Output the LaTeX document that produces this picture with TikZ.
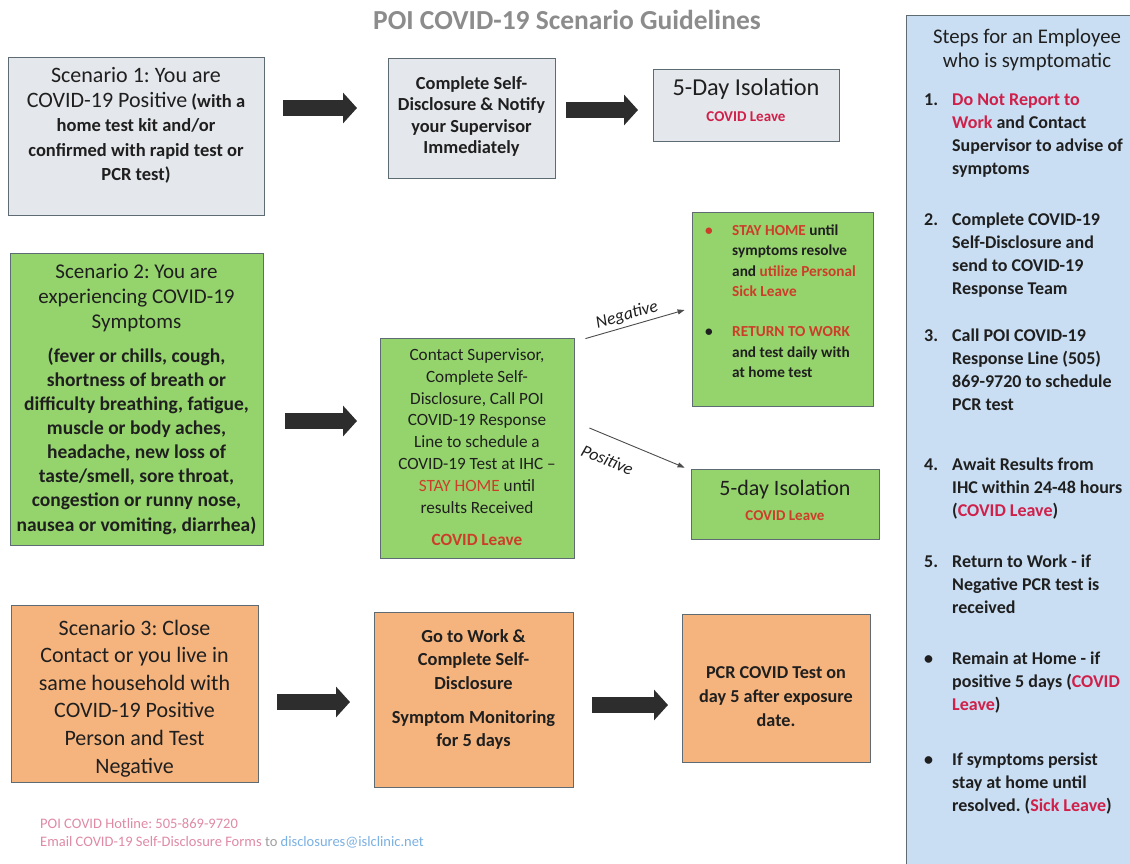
\documentclass[tikz,border=0pt]{standalone}
\usepackage{fontspec}
\setmainfont{Carlito}
\usetikzlibrary{arrows.meta}
\frenchspacing
\definecolor{txt}{HTML}{1F1F1F}
\definecolor{redp}{HTML}{D0204A}
\definecolor{redg}{HTML}{CC3E2A}
\definecolor{grayfill}{HTML}{E4E7EB}
\definecolor{greenfill}{HTML}{95D46C}
\definecolor{orangefill}{HTML}{F5B47E}
\definecolor{bluefill}{HTML}{C9DEF3}
\definecolor{bordc}{HTML}{5F6B73}
\definecolor{arrc}{HTML}{2D2D2D}
\definecolor{titlec}{HTML}{8C8C8C}
\definecolor{footpink}{HTML}{E08AA5}
\definecolor{footgray}{HTML}{A0A0A0}
\definecolor{footblue}{HTML}{7AB0E2}
\newcommand\FtTitle{\fontsize{22}{24.5}\selectfont\mdseries}
\tikzset{
  box/.style={draw=bordc, line width=0.8pt, inner sep=0pt, rectangle},
  graybox/.style={box, fill=grayfill},
  greenbox/.style={box, fill=greenfill},
  orangebox/.style={box, fill=orangefill},
  txtnode/.style={anchor=north, inner sep=0pt, align=flush center, text=txt},
  listnode/.style={anchor=north west, inner sep=0pt, align=flush left, text=txt, text width=215pt,
    font=\fontsize{18}{23}\selectfont\bfseries},
  blockarr/.style={draw=arrc, line width=16pt, -{Triangle[length=14pt,width=30pt]}},
  thinarr/.style={draw=arrc!85, line width=0.9pt, -{Triangle[length=7pt,width=5pt]}},
  lbl/.style={font=\fontsize{17.5}{20}\selectfont\itshape, text=txt, inner sep=2pt},
}
\begin{document}
\begin{tikzpicture}[x=1pt,y=-1pt]
\useasboundingbox (0,0) rectangle (1130,863);
\fill[white] (0,0) rectangle (1130,863);

% title
\node[font=\fontsize{27.5}{30}\selectfont\bfseries, text=titlec, inner sep=0pt] (title) at (567,20) {POI COVID-19 Scenario Guidelines};

% sidebar
\node[box, fill=bluefill, minimum width=234pt, minimum height=855pt] (side) at (1023,442.5) {};
\node[txtnode, text width=225pt, font=\fontsize{20.8}{24}\selectfont] (sidet) at (1027,29) {Steps for an Employee\\ who is symptomatic};
\node[listnode] (st1) at (924,94) {\makebox[28pt][l]{1.}\textcolor{redp}{Do Not Report to}\\ \hspace*{28pt}\textcolor{redp}{Work} and Contact\\ \hspace*{28pt}Supervisor to advise of\\ \hspace*{28pt}symptoms};
\node[listnode] (st2) at (924,213) {\makebox[28pt][l]{2.}Complete COVID-19\\ \hspace*{28pt}Self-Disclosure and\\ \hspace*{28pt}send to COVID-19\\ \hspace*{28pt}Response Team};
\node[listnode] (st3) at (924,329) {\makebox[28pt][l]{3.}Call POI COVID-19\\ \hspace*{28pt}Response Line (505)\\ \hspace*{28pt}869-9720 to schedule\\ \hspace*{28pt}PCR test};
\node[listnode] (st4) at (924,458) {\makebox[28pt][l]{4.}Await Results from\\ \hspace*{28pt}IHC within 24-48 hours\\ \hspace*{28pt}(\textcolor{redp}{COVID Leave})};
\node[listnode] (st5) at (924,555) {\makebox[28pt][l]{5.}Return to Work - if\\ \hspace*{28pt}Negative PCR test is\\ \hspace*{28pt}received};
\node[listnode] (st6) at (924,652) {\makebox[28pt][l]{•}Remain at Home - if\\ \hspace*{28pt}positive 5 days (\textcolor{redp}{COVID}\\ \hspace*{28pt}\textcolor{redp}{Leave})};
\node[listnode] (st7) at (924,753) {\makebox[28pt][l]{•}If symptoms persist\\ \hspace*{28pt}stay at home until\\ \hspace*{28pt}resolved. (\textcolor{redp}{Sick Leave})};

% row 1
\node[graybox, minimum width=256pt, minimum height=158pt] (s1) at (136,136) {};
\node[txtnode, text width=252pt, font=\fontsize{18.5}{24.5}\selectfont\bfseries] (s1t) at (136,67.6)
  {{\FtTitle Scenario 1: You are}\\ {\FtTitle COVID-19 Positive} (with a\\ home test kit and/or\\ confirmed with rapid test or\\ PCR test)};
\node[graybox, minimum width=167pt, minimum height=120pt] (c1) at (471.5,118) {};
\node[txtnode, text width=164pt, font=\fontsize{18.4}{21.5}\selectfont\bfseries] (c1t) at (471.5,76)
  {Complete Self-\\ Disclosure \& Notify\\ your Supervisor\\ Immediately};
\node[graybox, minimum width=186pt, minimum height=72pt] (i1) at (746,105) {};
\node[txtnode, text width=182pt, font=\fontsize{24.3}{26}\selectfont] (i1t) at (746,78.8)
  {5-Day Isolation\\ \fontsize{15}{22}\selectfont\bfseries\color{redp}COVID Leave};
\coordinate (a1s) at (283,108); \coordinate (a1e) at (357,108);
\coordinate (a2s) at (566,110); \coordinate (a2e) at (638,110);
\draw[blockarr] (a1s) -- (a1e);
\draw[blockarr] (a2s) -- (a2e);

% row 2
\node[greenbox, minimum width=253pt, minimum height=292pt] (s2) at (136.5,399) {};
\node[txtnode, text width=250pt, font=\fontsize{21}{25}\selectfont] (s2t) at (136.5,264)
  {Scenario 2: You are\\ experiencing COVID-19\\ Symptoms\\[9.5pt]
   \fontsize{19.5}{24}\selectfont\bfseries (fever or chills, cough,\\ shortness of breath or\\ difficulty breathing, fatigue,\\ muscle or body aches,\\ headache, new loss of\\ taste/smell, sore throat,\\ congestion or runny nose,\\ nausea or vomiting, diarrhea)};
\node[greenbox, minimum width=194pt, minimum height=220pt] (c2) at (477,448) {};
\node[txtnode, text width=190pt, font=\fontsize{17.2}{21.8}\selectfont] (c2t) at (477,348.5)
  {Contact Supervisor,\\ Complete Self-\\ Disclosure, Call POI\\ COVID-19 Response\\ Line to schedule a\\ COVID-19 Test at IHC --\\ \textcolor{redg}{STAY HOME} until\\ results Received\\[11pt] \bfseries\color{redg}COVID Leave};
\node[greenbox, minimum width=181pt, minimum height=194pt] (neg) at (782.5,309) {};
\node[anchor=north west, inner sep=0pt, align=flush left, text=txt, text width=170pt, font=\fontsize{15.3}{20.5}\selectfont\bfseries] (negt) at (705,224.2)
  {\makebox[27pt][l]{\textcolor{redg}{•}}\textcolor{redg}{STAY HOME} until\\ \hspace*{27pt}symptoms resolve\\ \hspace*{27pt}and \textcolor{redg}{utilize Personal}\\ \hspace*{27pt}\textcolor{redg}{Sick Leave}\\[19.5pt]
   \makebox[27pt][l]{•}\textcolor{redg}{RETURN TO WORK}\\ \hspace*{27pt}and test daily with\\ \hspace*{27pt}at home test};
\node[greenbox, minimum width=188pt, minimum height=70pt] (pos) at (785,504) {};
\node[txtnode, text width=184pt, font=\fontsize{22}{25}\selectfont] (post) at (785,479.6)
  {5-day Isolation\\ \fontsize{15}{32.8}\selectfont\bfseries\color{redg}COVID Leave};
\coordinate (a3s) at (285,421); \coordinate (a3e) at (357,421);
\draw[blockarr] (a3s) -- (a3e);
\draw[thinarr] ([shift={(11pt,-1pt)}]c2.north east) -- node[lbl, pos=0.45, above=1pt, sloped] (negl) {Negative} ([shift={(-7pt,-1pt)}]neg.west);
\draw[thinarr] ([shift={(15pt,20pt)}]c2.east) -- node[lbl, pos=0.28, below=14pt, sloped] (posl) {Positive} ([shift={(-6pt,1pt)}]pos.north west);

% row 3
\node[orangebox, minimum width=247pt, minimum height=177pt] (s3) at (134.5,693.5) {};
\node[txtnode, text width=243pt, font=\fontsize{22}{27.6}\selectfont] (s3t) at (134.5,619.6)
  {Scenario 3: Close\\ Contact or you live in\\ same household with\\ COVID-19 Positive\\ Person and Test\\ Negative};
\node[orangebox, minimum width=199pt, minimum height=175pt] (c3) at (473.5,699.5) {};
\node[txtnode, text width=195pt, font=\fontsize{18.4}{23.5}\selectfont\bfseries] (c3t) at (473.5,629)
  {Go to Work \&\\ Complete Self-\\ Disclosure\\[10.5pt] Symptom Monitoring\\ for 5 days};
\node[orangebox, minimum width=188pt, minimum height=148pt] (pcr) at (776,688) {};
\node[txtnode, text width=184pt, font=\fontsize{18.2}{24}\selectfont\bfseries] (pcrt) at (776,666)
  {PCR COVID Test on\\ day 5 after exposure\\ date.};
\coordinate (a4s) at (277,702); \coordinate (a4e) at (350,702);
\coordinate (a5s) at (592,705); \coordinate (a5e) at (668,705);
\draw[blockarr] (a4s) -- (a4e);
\draw[blockarr] (a5s) -- (a5e);

% footer
\node[anchor=north west, inner sep=0pt, align=flush left, text width=500pt, font=\fontsize{14.5}{17.5}\selectfont] (foot) at (40,818.5)
  {\textcolor{footpink}{POI COVID Hotline: 505-869-9720}\\
   \textcolor{footpink}{Email COVID-19 Self-Disclosure Forms} \textcolor{footgray}{to} \textcolor{footblue}{disclosures@islclinic.net}};
\end{tikzpicture}
\end{document}
